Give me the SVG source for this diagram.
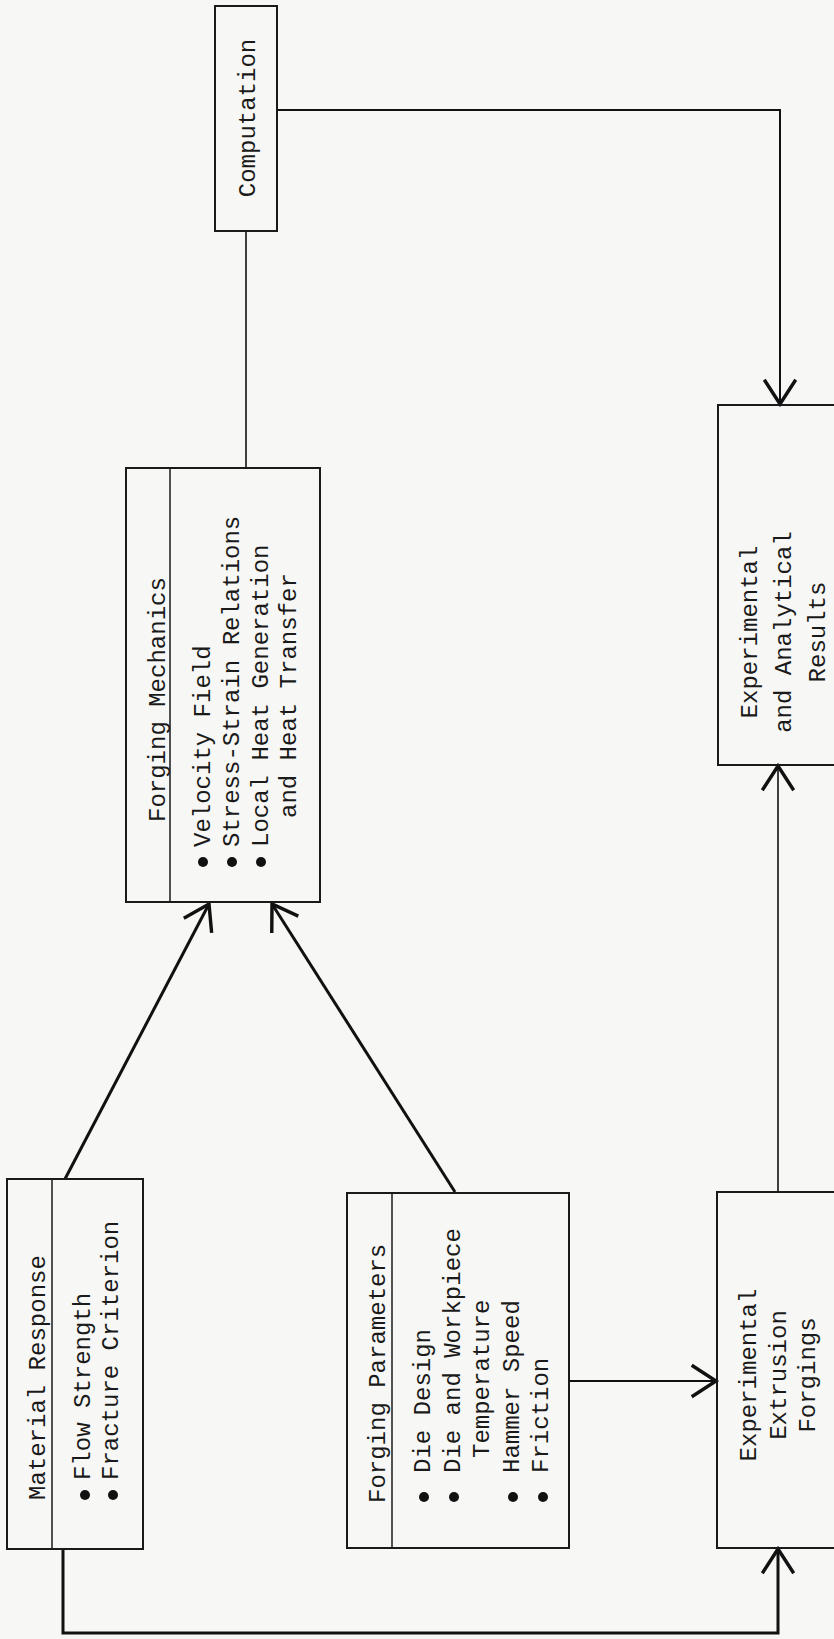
<svg xmlns="http://www.w3.org/2000/svg" width="834" height="1639" viewBox="0 0 834 1639">
<defs>
<style>
.box{fill:none;stroke:#1a1a1a;stroke-width:2}
.div{fill:none;stroke:#1a1a1a;stroke-width:1.5}
.t{font-family:"Liberation Mono","DejaVu Sans Mono",monospace;font-size:24px;fill:#1a1a1a}
.c{text-anchor:middle}
.b{fill:#111}
.con{fill:none;stroke:#111;stroke-width:2}
.thin{stroke-width:1.6}
.thick{stroke-width:3}
</style>
<marker id="arr" markerUnits="userSpaceOnUse" markerWidth="40" markerHeight="40" viewBox="-20 -14 22 28" refX="0" refY="0" orient="auto">
<path d="M-17,-11 L0,0 L-17,11" fill="none" stroke="#111" stroke-width="2.4"/>
</marker>
</defs>
<rect x="0" y="0" width="834" height="1639" fill="#f7f7f5"/>

<g id="connectors">
<line class="con thin" x1="246" y1="231" x2="246" y2="468"/>
<polyline class="con" points="277,110 780,110 780,404" marker-end="url(#arr)"/>
<line class="con thick" x1="65" y1="1179" x2="209" y2="904" marker-end="url(#arr)"/>
<line class="con thick" x1="455" y1="1192" x2="272" y2="904" marker-end="url(#arr)"/>
<line class="con" x1="569" y1="1381" x2="716" y2="1381" marker-end="url(#arr)"/>
<line class="con thin" x1="778" y1="1192" x2="778" y2="766" marker-end="url(#arr)"/>
<polyline class="con thick" points="63,1549 63,1633 778,1633 778,1549" marker-end="url(#arr)"/>
</g>

<g id="computation">
<rect class="box" x="215" y="6" width="62" height="225"/>
<text class="t c" transform="translate(255,118) rotate(-90)">Computation</text>
</g>

<g id="forging-mechanics">
<rect class="box" x="126" y="468" width="194" height="434"/>
<line class="div" x1="170" y1="468" x2="170" y2="902"/>
<text class="t" transform="translate(165,822) rotate(-90)">Forging Mechanics</text>
<circle class="b" cx="203" cy="862" r="5"/>
<circle class="b" cx="232" cy="862" r="5"/>
<circle class="b" cx="261" cy="862" r="5"/>
<text class="t" transform="translate(210,847) rotate(-90)">Velocity Field</text>
<text class="t" transform="translate(239,847) rotate(-90)">Stress-Strain Relations</text>
<text class="t" transform="translate(268,847) rotate(-90)">Local Heat Generation</text>
<text class="t" transform="translate(296,818) rotate(-90)">and Heat Transfer</text>
</g>

<g id="results">
<rect class="box" x="718" y="405" width="140" height="360"/>
<text class="t c" transform="translate(757,632) rotate(-90)">Experimental</text>
<text class="t c" transform="translate(791,632) rotate(-90)">and Analytical</text>
<text class="t c" transform="translate(825,632) rotate(-90)">Results</text>
</g>

<g id="material-response">
<rect class="box" x="7" y="1179" width="136" height="370"/>
<line class="div" x1="52" y1="1179" x2="52" y2="1549"/>
<text class="t" transform="translate(45,1500) rotate(-90)">Material Response</text>
<circle class="b" cx="85" cy="1495" r="5"/>
<circle class="b" cx="113" cy="1495" r="5"/>
<text class="t" transform="translate(90,1480) rotate(-90)">Flow Strength</text>
<text class="t" transform="translate(118,1480) rotate(-90)">Fracture Criterion</text>
</g>

<g id="forging-parameters">
<rect class="box" x="347" y="1193" width="222" height="355"/>
<line class="div" x1="392" y1="1193" x2="392" y2="1548"/>
<text class="t" transform="translate(385,1503) rotate(-90)">Forging Parameters</text>
<circle class="b" cx="424" cy="1497" r="5"/>
<circle class="b" cx="454" cy="1497" r="5"/>
<circle class="b" cx="513" cy="1497" r="5"/>
<circle class="b" cx="543" cy="1497" r="5"/>
<text class="t" transform="translate(430,1473) rotate(-90)">Die Design</text>
<text class="t" transform="translate(460,1473) rotate(-90)">Die and Workpiece</text>
<text class="t" transform="translate(489,1458) rotate(-90)">Temperature</text>
<text class="t" transform="translate(519,1473) rotate(-90)">Hammer Speed</text>
<text class="t" transform="translate(548,1473) rotate(-90)">Friction</text>
</g>

<g id="experimental-extrusion">
<rect class="box" x="717" y="1192" width="140" height="356"/>
<text class="t c" transform="translate(756,1375) rotate(-90)">Experimental</text>
<text class="t c" transform="translate(786,1375) rotate(-90)">Extrusion</text>
<text class="t c" transform="translate(815,1375) rotate(-90)">Forgings</text>
</g>
</svg>
